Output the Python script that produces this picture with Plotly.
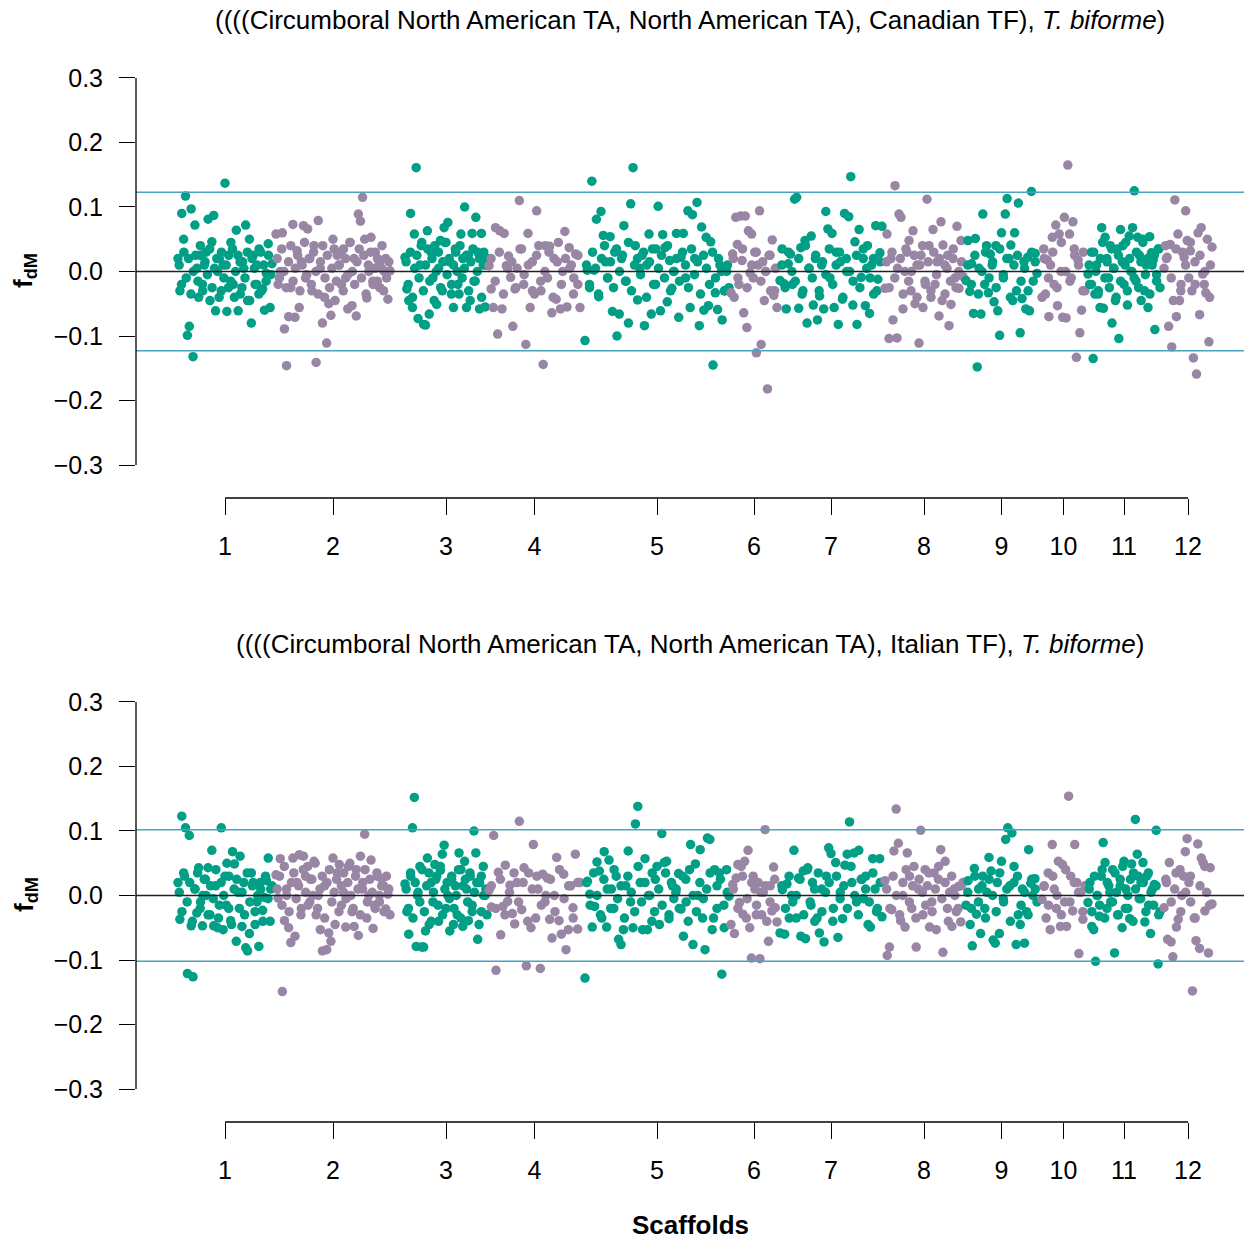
import plotly.graph_objects as go

# ---------------- data ----------------
scaffold_labels = ["1", "2", "3", "4", "5", "6", "7", "8", "9", "10", "11", "12"]
# cumulative start (Mb) and length (Mb) of each scaffold on the genome axis
scaffold_start_mb = [0.0, 24.5, 56.75, 77.75, 101.75, 138.25, 150.5, 176.75, 197.0, 216.0, 227.5, 246.5]
scaffold_len_mb = [23.5, 28.5, 20.5, 22.75, 36.0, 11.5, 25.5, 19.5, 17.75, 10.75, 18.0, 12.0]

# fdM values of consecutive windows along each scaffold -- Canadian TF panel
fdm_canadian = [
    [0.02, -0.03, 0.09, 0.05, 0.117, -0.099, -0.085, 0.097, -0.132, 0.072, 0.005, -0.04, 0.025, -0.02, 0.01,
     0.03, 0.081, -0.045, 0.046, 0.087, -0.061, 0.0, 0.02, -0.03, 0.01, 0.137, -0.062, 0.025, -0.015, 0.035,
     -0.04, 0.064, -0.061, 0.015, -0.025, 0.005, 0.072, -0.045, 0.05, -0.08, 0.025, -0.02, 0.01, -0.035, 0.03,
     -0.027, -0.06, -0.003, 0.043, -0.056, 0.012],
    [0.058, -0.02, 0.0, 0.06, -0.089, -0.146, -0.07, -0.025, 0.073, -0.071, 0.032, -0.056, 0.015, 0.071, -0.01,
     0.066, 0.02, -0.03, 0.04, -0.141, 0.079, 0.005, -0.08, -0.04, -0.111, -0.05, -0.068, 0.05, -0.045, 0.025,
     0.01, -0.02, 0.035, -0.01, -0.058, 0.045, -0.053, 0.02, -0.069, 0.089, 0.078, 0.115, 0.05, -0.041, 0.0,
     0.053, -0.02, 0.03, -0.015, 0.014, 0.005, -0.03, 0.02, -0.043, 0.001],
    [0.022, -0.027, -0.045, 0.09, -0.056, 0.058, 0.161, -0.073, 0.01, 0.045, -0.082, -0.083, 0.063, -0.066, 0.03,
     -0.01, 0.04, -0.051, 0.005, 0.048, -0.03, 0.068, 0.045, 0.076, 0.015, -0.02, -0.056, 0.035, 0.0, -0.035,
     0.058, 0.02, 0.1, -0.056, 0.025, -0.045, 0.059, -0.015, 0.084, 0.03, -0.058, 0.059, 0.01, -0.055, 0.02],
    [0.009, -0.027, -0.056, 0.068, -0.097, 0.063, -0.058, 0.059, 0.009, 0.024, -0.009, -0.085, -0.027, 0.005, 0.11,
     0.035, -0.02, -0.113, 0.059, -0.056, 0.015, -0.035, 0.094, 0.04, -0.03, -0.144, 0.04, -0.01, 0.039, -0.064,
     0.02, -0.043, 0.045, -0.058, 0.0, 0.062, -0.055, 0.037, 0.01, -0.035, 0.027, -0.02, -0.056],
    [-0.107, 0.002, -0.025, 0.14, 0.002, 0.081, -0.039, 0.093, 0.056, 0.015, -0.01, 0.054, -0.062, 0.03, -0.1,
     -0.066, 0.02, 0.071, -0.015, -0.08, 0.105, 0.161, 0.04, -0.044, 0.005, 0.025, -0.084, 0.01, 0.058, -0.066,
     -0.02, 0.035, 0.101, -0.061, 0.057, 0.037, -0.047, 0.017, -0.026, 0.0, 0.059, -0.071, 0.022, 0.059, -0.01,
     0.094, -0.056, 0.088, 0.02, 0.107, -0.084, 0.069, -0.06, 0.053, -0.053, 0.046, -0.145, -0.033, -0.059, 0.01,
     -0.075, -0.03, 0.0, -0.025],
    [-0.033, 0.027, -0.04, 0.084, 0.042, -0.02, 0.086, 0.017, -0.064, 0.086, -0.087, 0.063, -0.002, 0.058, -0.01,
     0.03, -0.126, 0.01, 0.094, -0.113, 0.015, -0.045, 0.0, -0.182, 0.025, -0.03, 0.049, -0.037, 0.005, -0.056],
    [-0.014, 0.035, -0.019, -0.058, 0.012, 0.027, -0.02, 0.112, 0.115, -0.057, 0.037, -0.03, 0.048, -0.08, 0.005,
     0.055, -0.052, 0.02, -0.075, -0.038, 0.01, -0.058, 0.093, 0.066, -0.01, 0.059, -0.056, 0.03, -0.082, 0.015,
     -0.043, 0.09, 0.0, 0.085, 0.147, -0.052, 0.046, -0.082, 0.065, -0.009, 0.02, -0.053, 0.04, -0.065, 0.01,
     -0.035, 0.071, -0.012, 0.029, 0.07],
    [-0.026, 0.058, -0.104, 0.02, -0.075, 0.133, -0.103, 0.089, 0.084, -0.058, 0.0, 0.03, 0.048, -0.03, 0.063,
     -0.05, 0.01, -0.111, 0.025, -0.056, -0.015, 0.112, 0.04, -0.04, 0.065, -0.02, 0.015, -0.069, 0.077, 0.041,
     -0.035, 0.005, -0.084, -0.051, 0.02, -0.01, 0.07, -0.026, 0.048, -0.008],
    [-0.014, 0.048, -0.031, 0.012, -0.065, 0.051, -0.148, 0.005, -0.066, 0.089, -0.02, 0.04, -0.033, 0.027, 0.01,
     -0.047, 0.04, -0.061, -0.099, 0.06, -0.01, 0.089, 0.113, 0.02, 0.041, -0.045, 0.06, -0.03, 0.106, -0.095,
     -0.042, 0.015, -0.058, 0.022, -0.061, 0.124, -0.015, 0.028, -0.003],
    [-0.04, 0.035, -0.035, 0.018, -0.07, 0.01, 0.053, -0.02, 0.072, -0.053, 0.058, 0.0, -0.071, 0.084, -0.072,
     0.165, 0.058, -0.01, 0.077, 0.025, -0.133, 0.018, -0.095, -0.06, 0.03, -0.03],
    [-0.004, -0.02, 0.03, -0.135, -0.035, 0.01, -0.03, -0.056, 0.068, -0.057, 0.053, 0.02, -0.01, 0.04, -0.08,
     0.005, -0.045, 0.035, -0.104, 0.065, 0.015, -0.02, 0.045, -0.052, 0.055, 0.0, 0.068, 0.125, -0.015, 0.053,
     0.025, -0.045, 0.045, -0.03, 0.01, -0.056, 0.054, 0.029, 0.018, -0.09, -0.005, 0.035, -0.025],
    [0.005, 0.04, 0.022, -0.085, 0.042, -0.117, -0.045, 0.111, -0.07, 0.058, -0.045, -0.02, 0.03, 0.022, 0.094,
     0.048, -0.01, 0.032, -0.03, -0.134, 0.015, -0.159, 0.06, -0.067, 0.068, -0.004, -0.02, -0.033, 0.05, -0.109,
     0.01, 0.038],
]
# interleaved windows (between the ones above) -- Canadian TF panel
fdm_canadian_mid = [
    [0.01, -0.02, 0.03, -0.01, 0.02, -0.035, 0.0, 0.025, -0.015, 0.04, -0.03, 0.015, -0.005, 0.035, -0.025, 0.005,
     0.02, -0.04, 0.03, -0.01, 0.01, -0.025, 0.045, -0.02, 0.0, 0.025, -0.035, 0.015, -0.01, 0.03, -0.045, 0.02,
     0.005, -0.02, 0.035, -0.03, 0.01, -0.015, 0.025, -0.005],
    [0.02, -0.01, 0.035, 0.0, -0.025, 0.015, 0.04, -0.015, 0.005, 0.025, -0.03, 0.01, 0.045, -0.005, 0.02, -0.02,
     0.03, 0.0, -0.035, 0.015, 0.04, -0.01, 0.025, -0.025, 0.005, 0.035, -0.015, 0.01, 0.03, -0.03, 0.02, -0.005,
     0.045, 0.0, -0.02, 0.015, 0.035, -0.01, 0.025, -0.035, 0.01, 0.03, -0.015, 0.005, 0.02, -0.025, 0.04, 0.0,
     -0.01, 0.015],
    [0.015, -0.02, 0.03, -0.04, 0.005, 0.025, -0.01, 0.04, -0.03, 0.01, 0.035, -0.015, 0.02, -0.045, 0.0, 0.03,
     -0.025, 0.015, 0.045, -0.005, 0.02, -0.035, 0.01, 0.03, -0.02, 0.04, -0.01, 0.005, 0.025, -0.03, 0.015, 0.035,
     -0.015, 0.0, 0.02, -0.04, 0.03, 0.01],
    [0.02, -0.015, 0.03, -0.035, 0.005, 0.015, -0.025, 0.035, -0.005, 0.01, -0.03, 0.025, -0.015, 0.0, 0.03, -0.04,
     0.015, -0.02, 0.02, 0.005, -0.01, 0.025],
    [0.01, -0.02, 0.03, 0.005, -0.035, 0.02, 0.04, -0.01, 0.015, -0.025, 0.035, 0.0, 0.025, -0.015, 0.045, -0.03,
     0.01, 0.02, -0.005, 0.03, -0.04, 0.015, 0.035, -0.02, 0.005, 0.025, -0.01, 0.04, -0.03, 0.0, 0.02, -0.015,
     0.03, 0.01, -0.025, 0.035, -0.005, 0.015, -0.035, 0.025, 0.005, -0.02, 0.03, -0.01, 0.02, 0.0, -0.03, 0.01],
    [0.02, -0.01, 0.035, -0.025, 0.01, 0.03, -0.015, 0.0, 0.025, -0.03],
    [0.01, -0.025, 0.03, 0.0, -0.015, 0.02, -0.035, 0.04, 0.005, -0.01, 0.025, -0.03, 0.015, -0.005, 0.035, -0.02,
     0.01, 0.03, -0.04, 0.02, 0.0, -0.015, 0.025, -0.025, 0.035, 0.005, -0.01, 0.02, -0.03, 0.015],
    [0.015, -0.025, 0.03, -0.01, 0.005, 0.02, -0.035, 0.035, -0.015, 0.0, 0.025, -0.04, 0.01, 0.04, -0.02, 0.015,
     -0.03, 0.03, -0.005, 0.02, -0.045, 0.01, 0.025, -0.015, 0.035, -0.025, 0.0, 0.015],
    [0.01, -0.02, 0.025, -0.035, 0.0, 0.03, -0.01, 0.015, -0.025, 0.035, -0.005, 0.02, -0.04, 0.01, 0.025, -0.015,
     0.005, -0.03, 0.03, 0.015],
    [0.02, -0.01, 0.03, -0.025, 0.045, 0.0, -0.015, 0.035, 0.01, -0.03],
    [0.01, -0.02, 0.03, 0.0, -0.035, 0.02, 0.045, -0.01, 0.015, -0.025, 0.035, 0.005, -0.04, 0.025, -0.015, 0.04,
     0.01, -0.03, 0.02, 0.0, -0.01, 0.03, -0.025, 0.015, 0.05, -0.005, 0.02, -0.035, 0.01, 0.025, -0.015, 0.035],
    [0.02, -0.01, 0.035, -0.03, 0.01, 0.045, -0.02, 0.025, 0.0, -0.04],
]

# fdM values of consecutive windows along each scaffold -- Italian TF panel
fdm_italian = [
    [0.02, -0.037, 0.123, 0.035, 0.105, -0.121, 0.093, -0.047, -0.126, 0.01, -0.027, 0.043, -0.01, -0.047, 0.025,
     0.0, 0.043, -0.03, 0.07, -0.047, 0.015, -0.05, -0.015, 0.105, -0.053, 0.03, 0.05, -0.02, -0.039, 0.068,
     0.049, -0.071, 0.005, 0.061, -0.048, 0.02, -0.081, -0.086, -0.059, 0.035, 0.02, -0.045, -0.01, -0.079, 0.01,
     -0.023, -0.003, 0.023, 0.058, -0.04, 0.015],
    [0.032, -0.004, 0.057, -0.149, -0.039, 0.01, -0.05, -0.073, 0.058, -0.063, 0.02, 0.063, -0.02, 0.061, 0.03,
     0.045, -0.01, 0.025, 0.053, -0.03, 0.0, -0.053, -0.086, 0.015, -0.084, -0.058, -0.071, 0.058, -0.045, 0.035,
     0.048, -0.015, 0.005, -0.049, 0.02, 0.05, -0.025, -0.048, 0.04, -0.062, 0.061, 0.01, 0.095, -0.035, 0.0,
     0.055, -0.051, -0.02, 0.03, -0.01, 0.026, 0.015, -0.021, 0.002, -0.03],
    [0.018, -0.025, -0.06, 0.035, 0.105, 0.152, -0.079, 0.005, 0.045, -0.08, -0.08, -0.055, 0.058, -0.045, 0.02,
     -0.01, 0.048, 0.03, -0.04, 0.039, 0.064, 0.078, -0.02, 0.0, -0.055, 0.025, -0.045, 0.015, -0.03, 0.066,
     0.04, -0.048, 0.053, 0.01, -0.039, 0.03, -0.015, 0.1, 0.066, -0.068, 0.02, -0.025, 0.045, 0.0, -0.03],
    [0.008, -0.018, 0.093, -0.116, 0.036, -0.061, -0.017, 0.047, -0.009, 0.016, -0.028, -0.044, 0.02, 0.115, -0.022,
     0.043, -0.109, 0.035, -0.05, 0.079, -0.035, 0.01, -0.113, 0.033, -0.01, 0.027, -0.037, -0.066, 0.0, 0.059,
     -0.039, -0.06, 0.033, -0.084, -0.053, 0.015, -0.019, 0.064, -0.052, 0.02],
    [-0.128, 0.022, 0.002, -0.049, -0.017, 0.052, 0.038, -0.035, 0.068, -0.049, 0.055, 0.01, -0.02, 0.03, -0.068,
     -0.076, -0.053, 0.015, 0.069, -0.01, -0.05, 0.111, 0.138, 0.02, -0.053, 0.057, -0.053, 0.0, 0.035, -0.025,
     0.045, -0.045, 0.096, 0.051, 0.053, -0.036, 0.02, -0.005, 0.01, 0.034, -0.021, -0.063, 0.025, -0.04, 0.079,
     -0.076, 0.049, 0.0, 0.071, -0.035, -0.084, 0.089, 0.087, -0.053, 0.04, -0.02, 0.035, -0.122, -0.05, 0.04,
     -0.001],
    [-0.045, 0.017, -0.059, 0.027, 0.048, -0.011, 0.045, -0.029, 0.053, -0.035, 0.07, -0.05, -0.097, 0.03, 0.01,
     -0.015, 0.02, -0.098, -0.03, 0.005, 0.102, -0.04, -0.071, 0.015, -0.024, 0.044, -0.019, -0.041],
    [-0.058, 0.009, -0.06, 0.018, -0.035, 0.0, 0.07, -0.035, 0.027, -0.063, 0.038, -0.067, 0.043, -0.01, 0.02,
     -0.04, -0.035, -0.058, 0.01, -0.072, 0.03, 0.074, 0.065, -0.02, 0.051, -0.065, 0.005, -0.036, 0.047, 0.064,
     0.114, 0.02, 0.066, -0.01, 0.07, 0.025, -0.005, 0.03, -0.045, -0.049, 0.057, 0.01, -0.02, 0.057, -0.033],
    [0.023, -0.093, -0.08, -0.022, 0.069, 0.134, 0.081, -0.039, 0.0, -0.049, 0.066, 0.03, -0.02, 0.045, -0.08,
     0.01, 0.101, -0.03, 0.04, 0.015, -0.049, -0.01, 0.035, -0.053, 0.025, 0.071, -0.088, 0.053, -0.02, 0.005,
     -0.048, 0.01, -0.025, 0.014, -0.041, 0.02],
    [-0.015, 0.023, -0.045, -0.078, 0.042, -0.029, 0.01, -0.059, 0.03, -0.02, 0.005, 0.059, 0.038, -0.069, -0.074,
     0.02, -0.059, 0.053, -0.01, 0.087, 0.105, 0.015, 0.097, 0.045, -0.076, -0.03, -0.045, 0.01, -0.074, -0.025,
     0.071, 0.019, 0.0, 0.026, -0.01],
    [-0.006, 0.014, -0.035, 0.035, -0.053, 0.079, 0.01, -0.02, 0.053, -0.048, 0.048, -0.01, -0.048, 0.154, 0.03,
     -0.024, 0.079, 0.02, -0.09, 0.005, -0.037, 0.015],
    [-0.011, 0.02, -0.048, -0.053, -0.102, 0.0, -0.032, 0.03, 0.082, 0.051, -0.02, 0.015, -0.01, 0.04, -0.089,
     0.005, -0.03, 0.025, -0.05, 0.053, 0.01, -0.02, -0.036, 0.049, 0.035, 0.118, 0.064, -0.005, 0.02, 0.051,
     -0.041, 0.03, -0.015, -0.059, 0.01, 0.017, 0.101, -0.106, -0.025],
    [-0.019, 0.025, -0.068, 0.051, -0.072, -0.095, 0.01, -0.049, -0.037, 0.04, 0.0, 0.03, 0.068, 0.088, 0.02,
     -0.01, -0.148, -0.035, -0.07, 0.08, -0.082, 0.058, 0.051, -0.024, 0.005, -0.089, 0.043, -0.013],
]
# interleaved windows (between the ones above) -- Italian TF panel
fdm_italian_mid = [
    [0.005, -0.025, 0.03, -0.01, 0.02, -0.04, 0.01, 0.035, -0.02, 0.0, 0.025, -0.03, 0.015, -0.005, 0.04, -0.035,
     0.02, 0.0, -0.015, 0.03, -0.045, 0.01, 0.025, -0.02, 0.005, -0.03, 0.035, -0.01, 0.015, -0.025, 0.0, 0.02,
     -0.04, 0.03, -0.005, 0.01],
    [0.01, 0.03, -0.015, 0.045, 0.0, -0.025, 0.02, 0.035, -0.005, 0.015, -0.03, 0.04, 0.005, -0.015, 0.025, 0.0,
     0.05, -0.02, 0.01, 0.03, -0.035, 0.02, 0.04, -0.01, 0.005, 0.025, -0.025, 0.015, 0.035, -0.005, 0.045, 0.0,
     -0.02, 0.03, 0.01, -0.03, 0.02, 0.04, -0.01, 0.025, 0.005, -0.015, 0.035, 0.0, 0.015, -0.025, 0.03, 0.01],
    [0.01, -0.02, 0.03, -0.035, 0.02, 0.0, -0.01, 0.04, -0.025, 0.015, 0.035, -0.04, 0.005, 0.025, -0.015, 0.045,
     -0.03, 0.01, 0.02, -0.005, 0.03, -0.02, 0.0, 0.04, -0.035, 0.015, 0.025, -0.01, 0.035, -0.025, 0.005, 0.02,
     -0.045, 0.03, 0.0, 0.01],
    [0.015, -0.02, 0.025, -0.03, 0.005, 0.035, -0.01, 0.02, -0.04, 0.01, 0.03, -0.015, 0.0, 0.025, -0.025, 0.04,
     -0.005, 0.015, -0.035, 0.02],
    [0.02, -0.015, 0.035, 0.0, -0.03, 0.025, 0.01, -0.02, 0.04, -0.005, 0.015, -0.035, 0.03, 0.005, -0.025, 0.045,
     -0.01, 0.02, 0.0, -0.04, 0.025, 0.01, -0.015, 0.035, -0.03, 0.015, 0.005, -0.02, 0.03, -0.01, 0.04, 0.0,
     -0.025, 0.02, -0.005, 0.01, 0.035, -0.035, 0.015, 0.025, -0.015, 0.005],
    [0.01, -0.02, 0.03, -0.005, 0.02, -0.03, 0.005, 0.015, -0.01, 0.025],
    [0.015, -0.02, 0.03, -0.01, 0.0, 0.025, -0.03, 0.04, -0.015, 0.01, 0.035, -0.025, 0.005, 0.02, -0.04, 0.03,
     -0.005, 0.015, -0.02, 0.045, 0.0, -0.03, 0.025, 0.01, -0.01, 0.035, -0.025, 0.02],
    [0.01, -0.02, 0.03, 0.0, -0.03, 0.02, 0.04, -0.01, 0.015, -0.035, 0.025, 0.005, -0.015, 0.035, -0.025, 0.01,
     0.045, -0.005, 0.02, -0.04, 0.03, 0.0, -0.02, 0.015],
    [0.005, -0.02, 0.03, -0.01, 0.015, -0.035, 0.025, 0.0, -0.025, 0.035, -0.005, 0.01, -0.04, 0.02, 0.03, -0.015,
     0.005, -0.03, 0.025, 0.01],
    [0.015, -0.015, 0.03, 0.0, -0.03, 0.04, -0.01, 0.02, 0.005, -0.025],
    [0.01, -0.025, 0.03, 0.0, -0.015, 0.04, -0.035, 0.02, 0.005, -0.01, 0.035, -0.03, 0.015, 0.045, -0.02, 0.0,
     0.025, -0.04, 0.01, 0.03, -0.005, 0.02, -0.025, 0.035, 0.005, -0.015, 0.015, -0.03],
    [0.02, -0.01, 0.035, -0.025, 0.005, 0.03, -0.035, 0.015, 0.045, -0.015],
]

# significance thresholds drawn as horizontal lines
threshold_canadian = 0.123
threshold_italian = 0.102

panel_titles = [
    "((((Circumboral North American TA, North American TA), Canadian TF), <i>T. biforme</i>)",
    "((((Circumboral North American TA, North American TA), Italian TF), <i>T. biforme</i>)",
]
y_tick_vals = [0.3, 0.2, 0.1, 0.0, -0.1, -0.2, -0.3]
y_tick_text = ["0.3", "0.2", "0.1", "0.0", "\u22120.1", "\u22120.2", "\u22120.3"]

# ---------------- styling ----------------
GREEN = "#009F86"
PURPLE = "#9986A5"
BLUE = "#4AA3BF"
FONT = "Liberation Sans, Arial, Helvetica, sans-serif"
W, H = 1244, 1242
TICK_FS = 25
TITLE_FS = 26


def pf(py):
    """pixel row -> paper fraction"""
    return 1 - py / H


centers = [s + l / 2 for s, l in zip(scaffold_start_mb, scaffold_len_mb)]
x_lo = scaffold_start_mb[0] - 10.5
x_hi = scaffold_start_mb[-1] + scaffold_len_mb[-1] + 8.0

fig = go.Figure()

panels = [
    dict(data=fdm_canadian, mid=fdm_canadian_mid, thr=threshold_canadian, xa="x", ya="y", off=0),
    dict(data=fdm_italian, mid=fdm_italian_mid, thr=threshold_italian, xa="x2", ya="y2", off=624),
]

for p_i, p in enumerate(panels):
    for k, vals in enumerate(p["data"]):
        mids = p["mid"][k]
        start, length = scaffold_start_mb[k], scaffold_len_mb[k]
        n, m = len(vals), len(mids)
        xs = [start + length * i / (n - 1) for i in range(n)]
        xs += [start + length * (j + 0.5) / m for j in range(m)]
        ys = list(vals) + list(mids)
        fig.add_trace(go.Scatter(
            x=xs, y=ys, mode="markers", xaxis=p["xa"], yaxis=p["ya"],
            marker=dict(size=9.5, color=GREEN if k % 2 == 0 else PURPLE, line=dict(width=0)),
            showlegend=False, hoverinfo="skip", cliponaxis=False,
        ))

layout = dict(
    width=W, height=H, margin=dict(l=136, r=0, t=0, b=0),
    paper_bgcolor="white", plot_bgcolor="white",
    font=dict(family=FONT, size=TICK_FS, color="black"),
    showlegend=False,
)
shapes = []
annotations = []
for p_i, p in enumerate(panels):
    off = p["off"]
    sfx = "" if p_i == 0 else "2"
    layout["xaxis" + sfx] = dict(
        range=[x_lo, x_hi], domain=[0, 1], anchor="free", position=pf(498 + off),
        showgrid=False, zeroline=False, showline=False,
        tickvals=centers, ticktext=scaffold_labels, ticks="outside", ticklen=16,
        tickwidth=1.3, tickcolor="black", tickfont=dict(size=TICK_FS, family=FONT),
        ticklabelstandoff=10,
    )
    layout["yaxis" + sfx] = dict(
        range=[-0.324, 0.324], domain=[pf(480.5 + off), pf(62.5 + off)],
        anchor="x" + sfx, showgrid=False, zeroline=False, showline=False,
        tickvals=y_tick_vals, ticktext=y_tick_text, ticks="outside", ticklen=16,
        tickwidth=1.3, tickcolor="black", tickfont=dict(size=TICK_FS, family=FONT),
        ticklabelstandoff=11,
    )
    xa, ya = p["xa"], p["ya"]
    for yv, col, wd in [(p["thr"], BLUE, 1.5), (-p["thr"], BLUE, 1.5), (0.0, "#222222", 1.3)]:
        shapes.append(dict(type="line", xref=xa + " domain", yref=ya, x0=0, x1=1, y0=yv, y1=yv,
                           line=dict(color=col, width=wd), layer="above"))
    shapes.append(dict(type="line", xref=xa + " domain", yref=ya, x0=0, x1=0,
                       y0=min(y_tick_vals), y1=max(y_tick_vals), line=dict(color="black", width=1.3)))
    shapes.append(dict(type="line", xref=xa, yref="paper", x0=centers[0], x1=centers[-1],
                       y0=pf(498 + off), y1=pf(498 + off), line=dict(color="black", width=1.3)))
    annotations.append(dict(text=panel_titles[p_i], xref="paper", yref="paper", x=0.5,
                            y=pf(20 + off), xanchor="center", yanchor="middle", showarrow=False,
                            font=dict(size=TITLE_FS, family=FONT)))
    annotations.append(dict(text="<b>f<sub>dM</sub></b>", xref="paper", yref="paper",
                            x=-111 / (W - 136), y=pf(271 + off), xanchor="center", yanchor="middle",
                            textangle=-90, showarrow=False, font=dict(size=TITLE_FS, family=FONT)))

annotations.append(dict(text="<b>Scaffolds</b>", xref="paper", yref="paper", x=0.5, y=0.0,
                        xanchor="center", yanchor="bottom", showarrow=False,
                        font=dict(size=TITLE_FS, family=FONT)))
layout["shapes"] = shapes
layout["annotations"] = annotations
fig.update_layout(**layout)

fig.write_html("out.html", config={"displayModeBar": False},
               post_script="document.body.style.margin='0';")
